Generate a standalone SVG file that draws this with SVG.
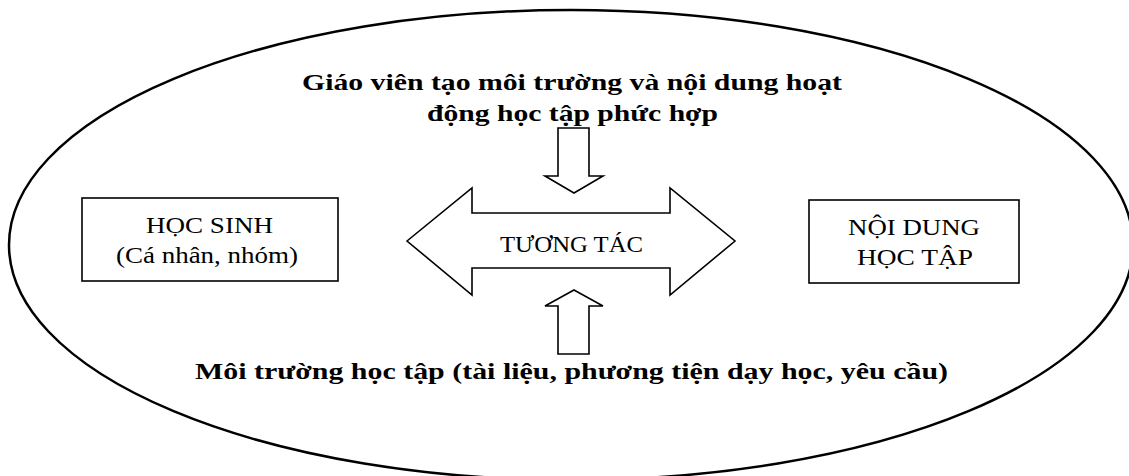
<svg xmlns="http://www.w3.org/2000/svg" width="1129" height="476" viewBox="0 0 1129 476">
<style>
.outline{fill:#fff;stroke:#000;stroke-width:2.5}
.box{fill:#fff;stroke:#000;stroke-width:1.6}
.arrow{fill:#fff;stroke:#000;stroke-width:1.6;stroke-linejoin:miter}
.t{font-family:"Liberation Serif","Times New Roman",serif;font-size:23px;fill:#000}
.b{font-family:"Liberation Serif","Times New Roman",serif;font-size:24px;font-weight:bold;fill:#000}
</style>
<rect width="1129" height="476" fill="#fff"/>
<g id="context">
<ellipse class="outline" cx="571" cy="245" rx="562" ry="235"/>
</g>
<g id="title">
<text class="b" x="302" y="90" textLength="540" lengthAdjust="spacingAndGlyphs">Giáo viên tạo môi trường và nội dung hoạt</text>
<text class="b" x="427" y="121" textLength="291" lengthAdjust="spacingAndGlyphs">động học tập phức hợp</text>
</g>
<g id="environment">
<text class="b" x="195" y="379" textLength="753" lengthAdjust="spacingAndGlyphs">Môi trường học tập (tài liệu, phương tiện dạy học, yêu cầu)</text>
</g>
<g id="connectors">
<polygon class="arrow" points="558,128 589,128 589,176 603,176 574,193 545,176 558,176"/>
<polygon class="arrow" points="574,290 603,306 589,306 589,354 558,354 558,306 545,306"/>
<polygon class="arrow" points="407,241 472,188 472,213 670,213 670,188 735,241 670,295 670,268 472,268 472,295"/>
</g>
<g id="interaction">
<text class="t" x="500" y="252" textLength="143" lengthAdjust="spacingAndGlyphs">TƯƠNG TÁC</text>
</g>
<g id="students">
<rect class="box" x="82" y="198" width="256" height="83"/>
<text class="t" x="146" y="233" textLength="127" lengthAdjust="spacingAndGlyphs">HỌC SINH</text>
<text class="t" x="116" y="263" textLength="182" lengthAdjust="spacingAndGlyphs">(Cá nhân, nhóm)</text>
</g>
<g id="content">
<rect class="box" x="809" y="200" width="210" height="83"/>
<text class="t" x="848" y="235" textLength="132" lengthAdjust="spacingAndGlyphs">NỘI DUNG</text>
<text class="t" x="857" y="265" textLength="116" lengthAdjust="spacingAndGlyphs">HỌC TẬP</text>
</g>
</svg>
